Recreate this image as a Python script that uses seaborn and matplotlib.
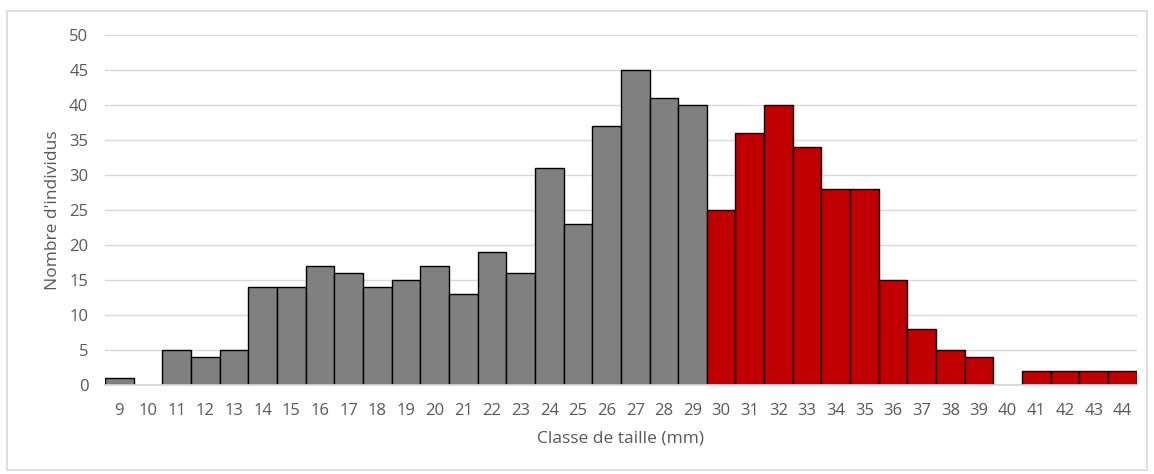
import pandas as pd
import seaborn as sns
from matplotlib import pyplot as plt
from matplotlib.patches import Rectangle

classes = [str(c) for c in range(9, 45)]
counts = [1, 0, 5, 4, 5, 14, 14, 17, 16, 14, 15, 17, 13, 19, 16, 31, 23, 37,
          45, 41, 40, 25, 36, 40, 34, 28, 28, 15, 8, 5, 4, 0, 2, 2, 2, 2]
groups = ["petit" if int(c) < 30 else "grand" for c in classes]

df = pd.DataFrame({"classe": classes, "n": counts, "groupe": groups})

sns.set_theme(style="white")
plt.rcParams['font.family'] = ['Open Sans', 'DejaVu Sans']

fig = plt.figure(figsize=(11.54, 4.74), dpi=100)
ax = fig.add_axes([0.091, 0.188, 0.894, 0.738])
fig.patches.append(Rectangle((0.006, 0.008), 0.988, 0.968, transform=fig.transFigure,
                             fill=False, edgecolor="#d9d9d9", linewidth=1.2))

sns.barplot(data=df, x="classe", y="n", hue="groupe", order=classes,
            palette={"petit": "#808080", "grand": "#C00000"}, saturation=1,
            width=1.0, edgecolor="black", linewidth=1.0, dodge=False,
            legend=False, ax=ax)

ax.set_ylim(0, 50)
ax.set_xlim(-0.5, len(classes) - 0.5)
ax.set_yticks(range(0, 51, 5))
ax.yaxis.grid(True, color="#d9d9d9", linewidth=1)
ax.set_axisbelow(True)
for s in ["top", "right", "left"]:
    ax.spines[s].set_visible(False)
ax.spines["bottom"].set_color("#d9d9d9")
ax.tick_params(axis="both", length=0, labelsize=12, colors="#595959")
ax.tick_params(axis="x", pad=13)
ax.tick_params(axis="y", pad=12)
ax.set_xlabel("Classe de taille (mm)", fontsize=12.5, color="#595959", labelpad=8)
ax.set_ylabel("Nombre d'individus", fontsize=12.5, color="#595959", labelpad=6)

fig.savefig("out.png", dpi=100)
